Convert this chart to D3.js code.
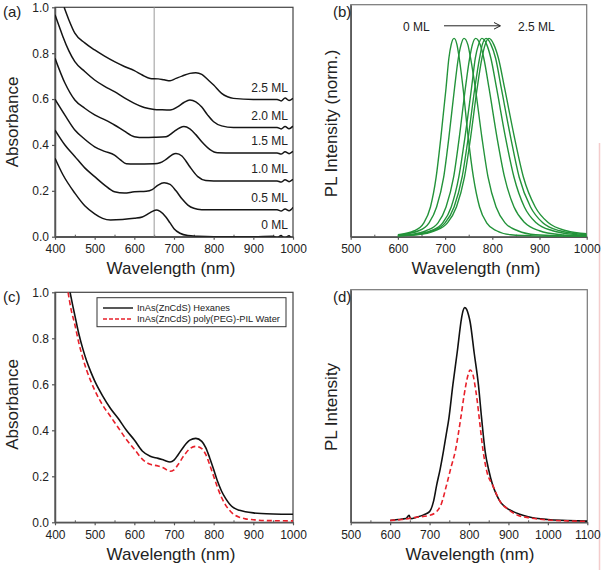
<!DOCTYPE html>
<html><head><meta charset="utf-8">
<script src="https://cdn.jsdelivr.net/npm/d3@7"></script>
<style>
html,body{margin:0;padding:0;background:#fff;}
svg{display:block;}
</style></head>
<body>
<svg id="chart" width="601" height="570"></svg>
<script>
// ---------------- DATA ----------------
// (a) absorbance spectra, offset, labels
const shellLabels = ["0 ML", "0.5 ML", "1.0 ML", "1.5 ML", "2.0 ML", "2.5 ML"];
const abs0ML = [[400,0.342],[420,0.27],[450,0.19],[475,0.135],[500,0.10],[520,0.08],[540,0.073],[570,0.075],[600,0.08],[620,0.086],[640,0.105],[655,0.116],[665,0.11],[680,0.085],[690,0.06],[700,0.035],[715,0.015],[735,0.005],[760,0.002],[800,0.0],[900,0.0],[950,0.002],[960,-0.004],[970,0.005],[975,-0.002],[980,-0.006],[990,0.004],[995,-0.004],[1000,-0.008]];
const abs05ML = [[400,0.465],[425,0.40],[450,0.35],[475,0.30],[500,0.262],[525,0.225],[550,0.196],[575,0.19],[600,0.196],[630,0.198],[645,0.205],[660,0.225],[675,0.235],[690,0.228],[705,0.20],[720,0.165],[735,0.138],[750,0.124],[770,0.118],[800,0.117],[900,0.117],[960,0.117],[970,0.112],[980,0.121],[990,0.113],[995,0.118],[1000,0.128]];
const abs10ML = [[400,0.599],[425,0.53],[450,0.465],[475,0.425],[500,0.392],[525,0.372],[550,0.356],[565,0.335],[580,0.318],[600,0.317],[650,0.318],[665,0.322],[680,0.337],[695,0.357],[705,0.363],[720,0.352],[730,0.33],[740,0.305],[760,0.262],[780,0.245],[800,0.243],[900,0.243],[960,0.243],[970,0.238],[980,0.248],[990,0.24],[1000,0.25]];
const abs15ML = [[400,0.778],[425,0.67],[450,0.596],[475,0.56],[500,0.531],[525,0.51],[550,0.487],[575,0.46],[600,0.436],[625,0.432],[650,0.433],[680,0.436],[700,0.458],[715,0.475],[725,0.48],[740,0.47],[755,0.445],[770,0.414],[790,0.381],[810,0.366],[850,0.365],[900,0.365],[960,0.365],[970,0.36],[980,0.37],[990,0.362],[1000,0.372]];
const abs20ML = [[400,0.967],[410,0.92],[420,0.872],[435,0.81],[450,0.763],[475,0.72],[500,0.683],[525,0.655],[550,0.632],[575,0.605],[600,0.581],[625,0.563],[650,0.555],[670,0.553],[690,0.552],[710,0.567],[725,0.585],[740,0.596],[755,0.588],[770,0.565],[785,0.53],[800,0.501],[820,0.483],[850,0.476],[900,0.476],[960,0.476],[970,0.47],[980,0.48],[990,0.471],[1000,0.482]];
const abs25ML = [[423,1.0],[435,0.945],[450,0.887],[475,0.845],[500,0.814],[525,0.787],[550,0.763],[575,0.742],[600,0.724],[620,0.705],[640,0.69],[660,0.688],[675,0.684],[690,0.68],[705,0.69],[720,0.70],[740,0.712],[755,0.715],[770,0.708],[785,0.685],[800,0.661],[820,0.625],[835,0.61],[850,0.603],[900,0.598],[960,0.598],[970,0.592],[980,0.605],[990,0.594],[1000,0.603]];
const absSeries = [abs0ML, abs05ML, abs10ML, abs15ML, abs20ML, abs25ML];
const absMarkerWl = 650;

// (b) normalized PL spectra
const pl0ML = [[600,0.01],[635,0.03],[655,0.07],[669,0.15],[681,0.3],[691,0.5],[702,0.75],[708,0.9],[713,0.97],[719,1],[725,0.97],[730,0.9],[738,0.75],[749,0.5],[760,0.3],[773,0.15],[788,0.07],[809,0.03],[839,0.01],[900,0.003],[1000,0]];
const pl05ML = [[600,0.008],[644,0.03],[666,0.07],[682,0.15],[697,0.3],[708,0.5],[720,0.75],[728,0.9],[734,0.97],[740,1],[748,0.97],[754,0.9],[764,0.75],[778,0.5],[791,0.3],[808,0.15],[827,0.07],[854,0.03],[892,0.01],[1000,0.002]];
const pl10ML = [[600,0.005],[625,0.01],[660,0.03],[685,0.07],[702,0.15],[718,0.3],[730,0.5],[743,0.75],[752,0.9],[758,0.97],[765,1],[774,0.97],[782,0.9],[793,0.75],[810,0.5],[826,0.3],[846,0.15],[869,0.07],[900,0.03],[945,0.01],[1000,0.003]];
const pl15ML = [[600,0.005],[634,0.01],[670,0.03],[695,0.07],[713,0.15],[729,0.3],[742,0.5],[756,0.75],[764,0.9],[771,0.97],[778,1],[788,0.97],[797,0.9],[809,0.75],[828,0.5],[846,0.3],[868,0.15],[893,0.07],[928,0.03],[978,0.01],[1000,0.006]];
const pl20ML = [[600,0.005],[635,0.01],[673,0.03],[700,0.07],[719,0.15],[736,0.3],[749,0.5],[763,0.75],[773,0.9],[779,0.97],[787,1],[797,0.97],[807,0.9],[819,0.75],[839,0.5],[857,0.3],[881,0.15],[907,0.07],[943,0.03],[1000,0.01]];
const pl25ML = [[600,0.005],[640,0.01],[678,0.03],[705,0.07],[724,0.15],[741,0.3],[754,0.5],[768,0.75],[778,0.9],[785,0.97],[793,1],[803,0.97],[813,0.9],[826,0.75],[847,0.5],[866,0.3],[891,0.15],[919,0.07],[957,0.03],[1000,0.015]];
const plSeries = [pl0ML, pl05ML, pl10ML, pl15ML, pl20ML, pl25ML];

// (c) absorbance, hexanes vs water
const seriesNames = ["InAs(ZnCdS) Hexanes", "InAs(ZnCdS) poly(PEG)-PIL Water"];
const absHexanes = [[438,1.0],[445,0.94],[450,0.90],[460,0.82],[470,0.755],[480,0.70],[490,0.655],[500,0.615],[520,0.55],[540,0.495],[560,0.45],[580,0.40],[600,0.358],[620,0.31],[640,0.287],[660,0.278],[675,0.27],[690,0.262],[700,0.27],[710,0.293],[725,0.33],[740,0.357],[755,0.365],[770,0.352],[780,0.325],[790,0.28],[800,0.23],[810,0.177],[820,0.135],[830,0.104],[840,0.08],[850,0.064],[865,0.052],[880,0.046],[900,0.041],[920,0.038],[950,0.036],[1000,0.035]];
const absWater = [[433,1.0],[440,0.93],[450,0.86],[460,0.78],[470,0.715],[480,0.66],[490,0.615],[500,0.575],[520,0.51],[540,0.46],[560,0.41],[580,0.36],[600,0.318],[620,0.275],[640,0.252],[660,0.245],[675,0.235],[690,0.222],[700,0.228],[710,0.25],[725,0.29],[740,0.32],[755,0.33],[770,0.32],[780,0.295],[790,0.25],[800,0.2],[810,0.15],[820,0.108],[830,0.075],[840,0.052],[850,0.035],[865,0.022],[880,0.015],[900,0.011],[920,0.008],[950,0.007],[1000,0.006]];

// (d) PL, hexanes vs water
const plHexanes = [[600,0.008],[620,0.012],[640,0.016],[648,0.03],[652,0.016],[667,0.022],[685,0.032],[700,0.046],[710,0.09],[718,0.16],[727,0.23],[735,0.304],[742,0.375],[749,0.447],[759,0.59],[770,0.73],[781,0.877],[785,0.91],[789,0.923],[794,0.915],[799,0.89],[803,0.86],[813,0.73],[824,0.59],[832,0.447],[841,0.304],[850,0.225],[860,0.16],[870,0.118],[879,0.089],[895,0.062],[912,0.046],[950,0.024],[1000,0.012],[1050,0.008],[1100,0.005]];
const plWater = [[600,0.008],[630,0.012],[667,0.022],[700,0.03],[718,0.046],[730,0.08],[743,0.16],[755,0.24],[765,0.304],[779,0.447],[787,0.54],[792,0.59],[797,0.63],[803,0.655],[808,0.645],[812,0.62],[815,0.59],[821,0.52],[826,0.447],[836,0.304],[845,0.22],[860,0.16],[879,0.089],[900,0.055],[921,0.032],[950,0.02],[1000,0.01],[1050,0.006],[1100,0.004]];

// ticks
const xTicksAbs = [400, 500, 600, 700, 800, 900, 1000];
const xMinorAbs = [450, 550, 650, 750, 850, 950];
const yTicksAbs = [0.0, 0.2, 0.4, 0.6, 0.8, 1.0];
const xTicksPLb = [500, 600, 700, 800, 900, 1000];
const xMinorPLb = [550, 650, 750, 850, 950];
const xTicksPLd = [500, 600, 700, 800, 900, 1000, 1100];
const xMinorPLd = [550, 650, 750, 850, 950, 1050];

// ---------------- DRAW ----------------
const FONT = "'Liberation Sans', Arial, Helvetica, sans-serif";
const svg = d3.select("#chart").style("font-family", FONT);
const TXT = "#222";
const AX = "#555";

// faint pink artifact line at right edge
svg.append("line").attr("x1", 599.5).attr("x2", 599.5).attr("y1", 143).attr("y2", 570)
  .attr("stroke", "#f4cccc").attr("stroke-width", 1.5);

function makePanel(o) {
  const g = svg.append("g");
  const x = d3.scaleLinear().domain(o.xDomain).range([o.left, o.right]);
  const y = d3.scaleLinear().domain(o.yDomain).range([o.bottom, o.top]);
  const clipId = "clip" + o.id;
  g.append("clipPath").attr("id", clipId).append("rect")
    .attr("x", o.left).attr("y", o.top - 1).attr("width", o.right - o.left).attr("height", o.bottom - o.top + 1);
  // frame
  g.append("rect").attr("x", o.left).attr("y", o.top).attr("width", o.right - o.left).attr("height", o.bottom - o.top)
    .attr("fill", "none").attr("stroke", o.frameColor).attr("stroke-width", 1.2);
  // bottom axis
  const xa = g.append("g").attr("transform", `translate(0,${o.bottom})`)
    .call(d3.axisBottom(x).tickValues(o.xTicks).tickSize(3).tickSizeOuter(0).tickPadding(5).tickFormat(d3.format("d")));
  xa.select(".domain").attr("stroke", AX).attr("stroke-width", 1.5);
  xa.selectAll(".tick line").attr("stroke", AX).attr("stroke-width", 1.2);
  xa.selectAll(".tick text").attr("fill", TXT).attr("font-size", 12).attr("font-family", FONT);
  const xm = g.append("g").attr("transform", `translate(0,${o.bottom})`)
    .call(d3.axisBottom(x).tickValues(o.xMinor).tickSize(-2).tickSizeOuter(0).tickFormat(""));
  xm.select(".domain").remove();
  xm.selectAll(".tick line").attr("stroke", AX).attr("stroke-width", 1);
  // left axis
  const ya = g.append("g").attr("transform", `translate(${o.left},0)`)
    .call(d3.axisLeft(y).tickValues(o.yTicks || []).tickSize(3).tickSizeOuter(0).tickPadding(3).tickFormat(d3.format(".1f")));
  ya.select(".domain").attr("stroke", AX).attr("stroke-width", 1.5);
  ya.selectAll(".tick line").attr("stroke", AX).attr("stroke-width", 1.2);
  ya.selectAll(".tick text").attr("fill", TXT).attr("font-size", 12).attr("font-family", FONT);
  // titles
  g.append("text").attr("x", o.xTitleX).attr("y", o.bottom + 37.5).attr("text-anchor", "middle")
    .attr("font-size", 17).attr("fill", TXT).text("Wavelength (nm)");
  g.append("text").attr("transform", `translate(${o.yTitleX},${o.yTitleY}) rotate(-90)`).attr("text-anchor", "middle")
    .attr("font-size", 17).attr("fill", TXT).text(o.yTitle);
  g.append("text").attr("x", o.labelX).attr("y", o.labelY).attr("font-size", 15).attr("fill", TXT).text(o.label);
  const plot = g.append("g").attr("clip-path", `url(#${clipId})`);
  return { g, plot, x, y };
}

const line = (x, y) => d3.line().x(d => x(d[0])).y(d => y(d[1])).curve(d3.curveMonotoneX);

// ---- (a)
const A = makePanel({ id: "a", xDomain: [400, 1000], yDomain: [0, 1], left: 55, right: 293, top: 7.3, bottom: 236.7,
  xTicks: xTicksAbs, xMinor: xMinorAbs, yTicks: yTicksAbs, frameColor: "#444",
  xTitleX: 171, yTitleX: 17.5, yTitleY: 122, yTitle: "Absorbance", label: "(a)", labelX: 3, labelY: 17 });
A.plot.append("line").attr("x1", A.x(absMarkerWl)).attr("x2", A.x(absMarkerWl)).attr("y1", A.y(1)).attr("y2", A.y(0))
  .attr("stroke", "#9a9a9a").attr("stroke-width", 1);
absSeries.forEach((s, i) => {
  A.plot.append("path").datum(s).attr("d", line(A.x, A.y)).attr("fill", "none")
    .attr("stroke", "#151515").attr("stroke-width", 1.5);
  const base = s.find(d => d[0] === 900)[1];
  A.g.append("text").attr("x", 288).attr("y", A.y(base) - 8).attr("text-anchor", "end")
    .attr("font-size", 12).attr("fill", TXT).text(shellLabels[i]);
});

// ---- (b)
const B = makePanel({ id: "b", xDomain: [500, 1000], yDomain: [0, 1.17], left: 350.7, right: 586.7, top: 4.7, bottom: 236.7,
  xTicks: xTicksPLb, xMinor: xMinorPLb, yTicks: [], frameColor: "#777",
  xTitleX: 476, yTitleX: 337, yTitleY: 123.5, yTitle: "PL Intensity (norm.)", label: "(b)", labelX: 333, labelY: 17 });
plSeries.forEach(s => {
  B.plot.append("path").datum(s).attr("d", line(B.x, B.y)).attr("fill", "none")
    .attr("stroke", "#23933a").attr("stroke-width", 1.4);
});
B.g.append("text").attr("x", 403).attr("y", 30.5).attr("font-size", 12).attr("fill", TXT).text(shellLabels[0]);
B.g.append("text").attr("x", 518).attr("y", 30.5).attr("font-size", 12).attr("fill", TXT).text(shellLabels[5]);
B.g.append("line").attr("x1", 444).attr("x2", 500).attr("y1", 25.8).attr("y2", 25.8).attr("stroke", "#222").attr("stroke-width", 1);
B.g.append("path").attr("d", "M494,22.5 L500.5,25.8 L494,29.1").attr("fill", "none").attr("stroke", "#222").attr("stroke-width", 1);

// ---- (c)
const C = makePanel({ id: "c", xDomain: [400, 1000], yDomain: [0, 1], left: 55, right: 293, top: 292.3, bottom: 522.3,
  xTicks: xTicksAbs, xMinor: xMinorAbs, yTicks: yTicksAbs, frameColor: "#444",
  xTitleX: 171, yTitleX: 17.5, yTitleY: 404.5, yTitle: "Absorbance", label: "(c)", labelX: 3, labelY: 302 });
C.plot.append("path").datum(absWater).attr("d", line(C.x, C.y)).attr("fill", "none")
  .attr("stroke", "#e8202a").attr("stroke-width", 1.6).attr("stroke-dasharray", "5,3");
C.plot.append("path").datum(absHexanes).attr("d", line(C.x, C.y)).attr("fill", "none")
  .attr("stroke", "#111").attr("stroke-width", 1.6);
const lg = C.g.append("g");
lg.append("rect").attr("x", 97).attr("y", 297.7).attr("width", 189).attr("height", 29).attr("fill", "#fff")
  .attr("stroke", "#333").attr("stroke-width", 1);
lg.append("line").attr("x1", 103).attr("x2", 133).attr("y1", 308).attr("y2", 308).attr("stroke", "#111").attr("stroke-width", 1.4);
lg.append("line").attr("x1", 103).attr("x2", 133).attr("y1", 319).attr("y2", 319).attr("stroke", "#e8202a").attr("stroke-width", 1.4).attr("stroke-dasharray", "4,2");
lg.append("text").attr("x", 137).attr("y", 311.3).attr("font-size", 9.3).attr("fill", TXT).text(seriesNames[0]);
lg.append("text").attr("x", 137).attr("y", 322.3).attr("font-size", 9.3).attr("fill", TXT).text(seriesNames[1]);

// ---- (d)
const D = makePanel({ id: "d", xDomain: [500, 1100], yDomain: [0, 1], left: 350.7, right: 587.3, top: 289.7, bottom: 522.3,
  xTicks: xTicksPLd, xMinor: xMinorPLd, yTicks: [], frameColor: "#777",
  xTitleX: 470, yTitleX: 337, yTitleY: 407, yTitle: "PL Intensity", label: "(d)", labelX: 333, labelY: 302 });
D.plot.append("path").datum(plHexanes).attr("d", line(D.x, D.y)).attr("fill", "none")
  .attr("stroke", "#111").attr("stroke-width", 1.6);
D.plot.append("path").datum(plWater).attr("d", line(D.x, D.y)).attr("fill", "none")
  .attr("stroke", "#e8202a").attr("stroke-width", 1.6).attr("stroke-dasharray", "5,3");
</script>
</body></html>
